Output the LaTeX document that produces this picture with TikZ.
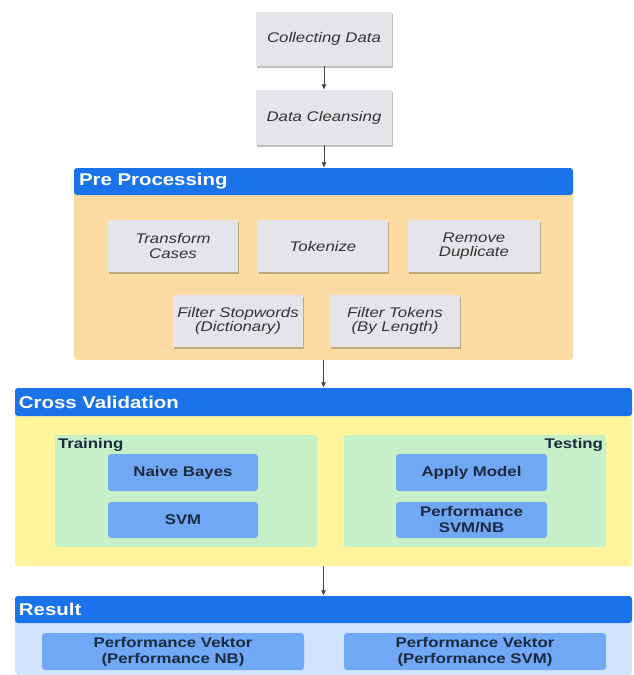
\documentclass[tikz,border=0pt]{standalone}
\usepackage{fontspec}
\setmainfont{Liberation Sans}[FakeStretch=1.2]
\usetikzlibrary{arrows.meta,shadows}
\definecolor{hdrblue}{HTML}{1A73E8}
\definecolor{ppbg}{HTML}{FCDCA2}
\definecolor{cvbg}{HTML}{FFF59D}
\definecolor{panelgreen}{HTML}{C6F0C8}
\definecolor{innerblue}{HTML}{70A8F5}
\definecolor{resbg}{HTML}{D2E3FC}
\definecolor{boxgray}{HTML}{E4E5E9}
\definecolor{txtgray}{HTML}{333333}
\definecolor{txtnavy}{HTML}{1B2A3E}
\definecolor{arrgray}{HTML}{444444}
\tikzset{
  graybox/.style={fill=boxgray, inner sep=0pt, align=center,
    font=\fontsize{14}{14.5}\selectfont\itshape, text=txtgray,
    drop shadow={shadow xshift=1.2pt, shadow yshift=-2pt, opacity=0.35, fill=black!70}},
  header/.style={fill=hdrblue, rounded corners=3pt, inner xsep=5pt, inner ysep=0pt,
    align=left, text=white, font=\fontsize{17}{19}\selectfont\bfseries},
  body/.style={rounded corners=3pt, inner sep=0pt},
  panel/.style={fill=panelgreen, rounded corners=3pt, inner sep=0pt,
    minimum width=262pt, minimum height=112pt},
  innerbox/.style={fill=innerblue, rounded corners=3pt, inner sep=0pt, align=center,
    font=\fontsize{14}{16}\selectfont\bfseries, text=txtnavy},
  plabel/.style={font=\fontsize{14}{15}\selectfont\bfseries, text=txtnavy, inner sep=3pt},
  flow/.style={draw=arrgray, line width=0.8pt, -{Latex[length=5.5pt,width=5pt]}}
}
\begin{document}
\begin{tikzpicture}[x=1pt,y=-1pt]
\useasboundingbox[fill=white] (0,0) rectangle (633,675);

% top boxes
\node[graybox, minimum width=136pt, minimum height=54pt] (cd) at (324,39) {Collecting Data};
\node[graybox, minimum width=136pt, minimum height=55pt] (dc) at (324,117.5) {Data Cleansing};

% Pre Processing
\node[body, fill=ppbg, minimum width=499pt, minimum height=192pt] (ppbody) at (323.5,264) {};
\node[header, minimum width=499pt, minimum height=27pt, text width=489pt] (pphead) at (323.5,181.5) {Pre Processing};
\node[graybox, minimum width=130pt, minimum height=52pt] (tc) at (173,246) {Transform\\Cases};
\node[graybox, minimum width=130pt, minimum height=52pt] (tk) at (323,246) {Tokenize};
\node[graybox, minimum width=132pt, minimum height=52pt] (rd) at (474,246) {Remove\\Duplicate};
\node[graybox, minimum width=130pt, minimum height=52pt] (fs) at (238,321) {Filter Stopwords\\(Dictionary)};
\node[graybox, minimum width=130pt, minimum height=52pt] (ft) at (395,321) {Filter Tokens\\(By Length)};

% Cross Validation
\node[body, fill=cvbg, minimum width=617pt, minimum height=178pt] (cvbody) at (323.5,477) {};
\node[header, minimum width=617pt, minimum height=28pt, text width=609pt, inner xsep=4pt] (cvhead) at (323.5,402) {Cross Validation};
\node[panel] (train) at (186,491) {};
\node[plabel, anchor=north west] (trainlbl) at (train.north west) {Training};
\node[panel] (test) at (475,491) {};
\node[plabel, anchor=north east] (testlbl) at (test.north east) {Testing};
\node[innerbox, minimum width=150pt, minimum height=37pt] (nb) at (183,472.5) {Naive Bayes};
\node[innerbox, minimum width=150pt, minimum height=36pt] (svm) at (183,520) {SVM};
\node[innerbox, minimum width=151pt, minimum height=37pt] (am) at (471.5,472.5) {Apply Model};
\node[innerbox, minimum width=151pt, minimum height=36pt] (psn) at (471.5,520) {Performance\\SVM/NB};

% Result
\node[body, fill=resbg, minimum width=617pt, minimum height=79pt] (resbody) at (323.5,635.5) {};
\node[header, minimum width=617pt, minimum height=27pt, text width=609pt, inner xsep=4pt] (reshead) at (323.5,609.5) {Result};
\node[innerbox, minimum width=262pt, minimum height=37pt] (pvnb) at (173,651.5) {Performance Vektor\\(Performance NB)};
\node[innerbox, minimum width=262pt, minimum height=37pt] (pvsvm) at (475,651.5) {Performance Vektor\\(Performance SVM)};

% connectors
\draw[flow] (cd.south) -- (dc.north);
\draw[flow] (dc.south) -- (dc.south |- pphead.north);
\draw[flow] (ppbody.south) -- (cvhead.north);
\draw[flow] (cvbody.south) -- (reshead.north);
\end{tikzpicture}
\end{document}
